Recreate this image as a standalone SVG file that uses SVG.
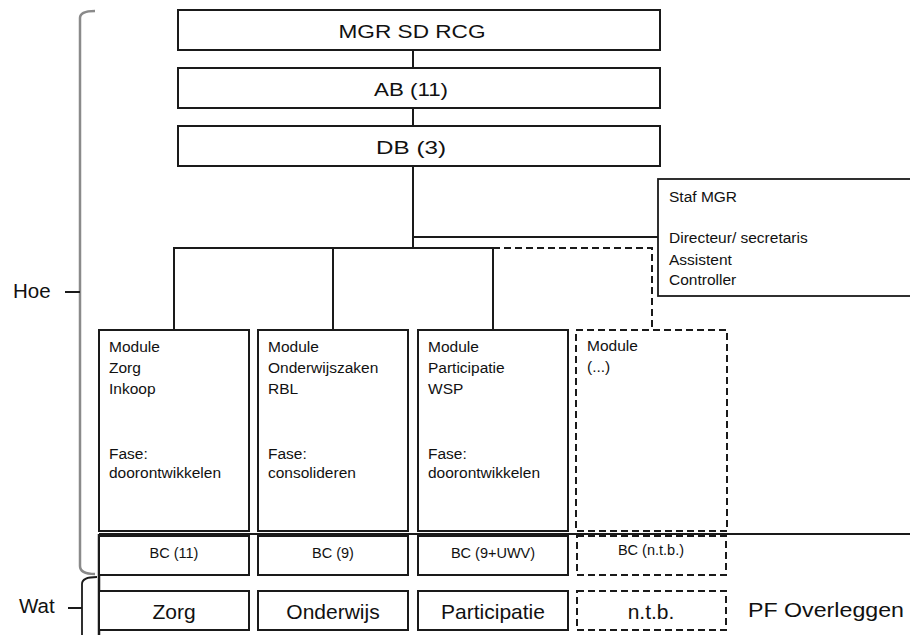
<svg xmlns="http://www.w3.org/2000/svg" width="910" height="635" viewBox="0 0 910 635">
<style>
text{font-family:"Liberation Sans",Arial,sans-serif;fill:#111}
.box{fill:#fff;stroke:#1a1a1a;stroke-width:2}
.dbox{fill:#fff;stroke:#1a1a1a;stroke-width:2;stroke-dasharray:7 4}
.ln{fill:none;stroke:#1a1a1a;stroke-width:2}
.dln{fill:none;stroke:#1a1a1a;stroke-width:2;stroke-dasharray:7 4}
.big{font-size:19px;text-anchor:middle}
.mod{font-size:15.5px}
.bc{font-size:14.5px;text-anchor:middle}
.pf{font-size:21px;text-anchor:middle}
.side{font-size:20.5px}
</style>
<rect width="910" height="635" fill="#fff"/>
<g id="connectors">
<line class="ln" x1="413" y1="50" x2="413" y2="68"/>
<line class="ln" x1="413" y1="108" x2="413" y2="126"/>
<line class="ln" x1="413" y1="166" x2="413" y2="248"/>
<line class="ln" x1="413" y1="237" x2="658" y2="237" stroke-width="1.6"/>
<polyline class="ln" points="174,330 174,248 493,248 493,330"/>
<line class="ln" x1="333" y1="248" x2="333" y2="330"/>
<polyline class="dln" points="493,248 652,248 652,330"/>
</g>
<g id="hoe-bracket">
<path d="M95,11 Q80,11 80,18 L80,566 Q80,574 95,574" fill="none" stroke="#8a8a8a" stroke-width="2.5"/>
<line x1="65" y1="292" x2="80" y2="292" stroke="#1a1a1a" stroke-width="2"/>
<text class="side" x="13" y="298">Hoe</text>
</g>
<g id="wat-bracket">
<path d="M97,577 Q82,577 82,584 L82,635" fill="none" stroke="#1a1a1a" stroke-width="1.8"/>
<line x1="68" y1="608" x2="82" y2="608" stroke="#1a1a1a" stroke-width="2"/>
<text class="side" x="19" y="613">Wat</text>
</g>
<g id="mgr">
<rect class="box" x="178" y="10" width="482" height="40"/>
<text class="big" x="412" y="38" textLength="147" lengthAdjust="spacingAndGlyphs">MGR  SD RCG</text>
</g>
<g id="ab">
<rect class="box" x="178" y="68" width="482" height="40"/>
<text class="big" x="411" y="96" textLength="74" lengthAdjust="spacingAndGlyphs">AB (11)</text>
</g>
<g id="db">
<rect class="box" x="178" y="126" width="482" height="40"/>
<text class="big" x="411" y="154" textLength="70" lengthAdjust="spacingAndGlyphs">DB  (3)</text>
</g>
<g id="staf">
<rect x="658" y="179" width="260" height="117" fill="#fff" stroke="#1a1a1a" stroke-width="1.8"/>
<text class="mod" x="669" y="202">Staf  MGR</text>
<text class="mod" x="669" y="243">Directeur/ secretaris</text>
<text class="mod" x="669" y="265">Assistent</text>
<text class="mod" x="669" y="285">Controller</text>
</g>
<g id="module-zorg">
<rect class="box" x="99" y="330" width="150" height="201"/>
<text class="mod" x="109" y="352">Module</text>
<text class="mod" x="109" y="373">Zorg</text>
<text class="mod" x="109" y="394">Inkoop</text>
<text class="mod" x="109" y="459">Fase:</text>
<text class="mod" x="109" y="478">doorontwikkelen</text>
</g>
<g id="module-onderwijs">
<rect class="box" x="258" y="330" width="150" height="201"/>
<text class="mod" x="268" y="352">Module</text>
<text class="mod" x="268" y="373">Onderwijszaken</text>
<text class="mod" x="268" y="394">RBL</text>
<text class="mod" x="268" y="459">Fase:</text>
<text class="mod" x="268" y="478">consolideren</text>
</g>
<g id="module-participatie">
<rect class="box" x="418" y="330" width="150" height="201"/>
<text class="mod" x="428" y="352">Module</text>
<text class="mod" x="428" y="373">Participatie</text>
<text class="mod" x="428" y="394">WSP</text>
<text class="mod" x="428" y="459">Fase:</text>
<text class="mod" x="428" y="478">doorontwikkelen</text>
</g>
<g id="module-ntb">
<rect class="dbox" x="576" y="330" width="151" height="201"/>
<text class="mod" x="587" y="351">Module</text>
<text class="mod" x="587" y="372" fill="#3a4a66">(...)</text>
</g>
<g id="divider">
<line x1="99" y1="534" x2="910" y2="534" stroke="#1a1a1a" stroke-width="2"/>
<line x1="99" y1="534" x2="99" y2="635" stroke="#1a1a1a" stroke-width="2.5"/>
</g>
<g id="bc-zorg">
<rect class="box" x="99" y="536" width="150" height="39" stroke-width="2.3"/>
<text class="bc" x="174" y="558">BC (11)</text>
</g>
<g id="bc-onderwijs">
<rect class="box" x="258" y="536" width="150" height="39" stroke-width="2.3"/>
<text class="bc" x="333" y="558">BC (9)</text>
</g>
<g id="bc-participatie">
<rect class="box" x="418" y="536" width="150" height="39" stroke-width="2.3"/>
<text class="bc" x="493" y="558">BC (9+UWV)</text>
</g>
<g id="bc-ntb">
<rect class="dbox" x="577" y="536" width="149" height="39"/>
<text class="bc" x="651" y="555">BC (n.t.b.)</text>
</g>
<g id="pf-zorg">
<rect class="box" x="99" y="591" width="150" height="39" stroke-width="2.3"/>
<text class="pf" x="174" y="619">Zorg</text>
</g>
<g id="pf-onderwijs">
<rect class="box" x="258" y="591" width="150" height="39" stroke-width="2.3"/>
<text class="pf" x="333" y="619">Onderwijs</text>
</g>
<g id="pf-participatie">
<rect class="box" x="418" y="591" width="150" height="39" stroke-width="2.3"/>
<text class="pf" x="493" y="619">Participatie</text>
</g>
<g id="pf-ntb">
<rect class="dbox" x="577" y="591" width="149" height="39"/>
<text class="pf" x="651" y="619">n.t.b.</text>
</g>
<g id="pf-overleggen">
<text class="pf" x="748" y="617" style="text-anchor:start" textLength="156" lengthAdjust="spacingAndGlyphs">PF  Overleggen</text>
</g>
</svg>
